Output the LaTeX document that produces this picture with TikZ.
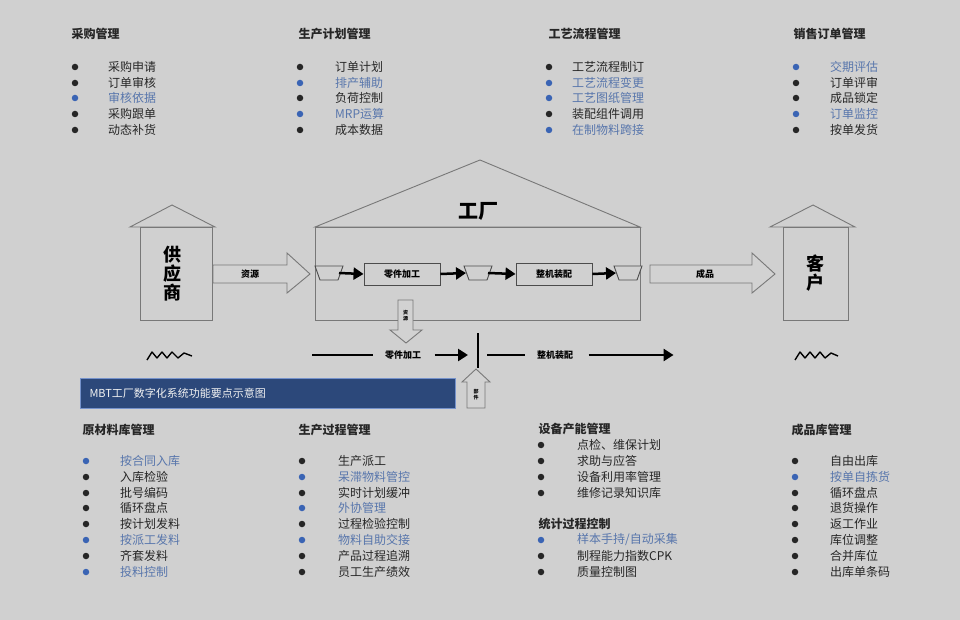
\documentclass[tikz,border=0pt]{standalone}
\usepackage{fontspec}
\setmainfont{Noto Sans CJK SC}
\usetikzlibrary{arrows.meta}
\definecolor{bg}{RGB}{208,208,208}
\definecolor{bluetxt}{RGB}{88,118,172}
\definecolor{bluedot}{RGB}{58,100,180}
\definecolor{banner}{RGB}{44,72,122}
\definecolor{edge}{RGB}{120,120,120}
\tikzset{
 ttl/.style={anchor=west,font=\fontsize{12}{14}\selectfont\bfseries,text=black!85},
 itm/.style={anchor=west,font=\fontsize{12}{14}\selectfont,text=black!85,inner sep=0pt},
 bitm/.style={itm,text=bluetxt},
 dot/.style={circle,fill=black!85,inner sep=0pt,minimum size=6.5pt},
 bdot/.style={dot,fill=bluedot},
 house/.style={draw=edge,line width=0.9pt,fill=bg},
 procbox/.style={draw=black!70,line width=0.9pt,minimum width=76pt,minimum height=22pt,font=\fontsize{9}{10}\selectfont\bfseries},
 flow/.style={-{Triangle[length=10pt,width=12pt]},line width=2.5pt,black},
 fat/.style={draw=edge,line width=0.9pt,fill=bg!95!white},
 big/.style={font=\fontsize{18}{21}\selectfont\bfseries},
 lbl/.style={font=\fontsize{9}{10}\selectfont\bfseries},
}
\newcommand\LI[6]{% name, bx, tx, y, style prefix, text
 \node[#5dot] (#1d) at (#2,#4) {};
 \node[#5itm] (#1) at (#3,#4) {#6};}
\begin{document}
\begin{tikzpicture}[x=1pt,y=-1pt]
\fill[bg] (0,0) rectangle (960,620);
\useasboundingbox (0,0) rectangle (960,620);
% top lists
\node[ttl] (t1) at (68,34) {采购管理};
\LI{a1}{75}{108}{67}{}{采购申请}
\LI{a2}{75}{108}{83}{}{订单审核}
\LI{a3}{75}{108}{98}{b}{审核依据}
\LI{a4}{75}{108}{114}{}{采购跟单}
\LI{a5}{75}{108}{130}{}{动态补货}
\node[ttl] (t2) at (295,34) {生产计划管理};
\LI{b1}{300}{335}{67}{}{订单计划}
\LI{b2}{300}{335}{83}{b}{排产辅助}
\LI{b3}{300}{335}{98}{}{负荷控制}
\LI{b4}{300}{335}{114}{b}{MRP运算}
\LI{b5}{300}{335}{130}{}{成本数据}
\node[ttl] (t3) at (545,34) {工艺流程管理};
\LI{c1}{549}{572}{67}{}{工艺流程制订}
\LI{c2}{549}{572}{83}{b}{工艺流程变更}
\LI{c3}{549}{572}{98}{b}{工艺图纸管理}
\LI{c4}{549}{572}{114}{}{装配组件调用}
\LI{c5}{549}{572}{130}{b}{在制物料跨接}
\node[ttl] (t4) at (790,34) {销售订单管理};
\LI{d1}{796}{830}{67}{b}{交期评估}
\LI{d2}{796}{830}{83}{}{订单评审}
\LI{d3}{796}{830}{98}{}{成品锁定}
\LI{d4}{796}{830}{114}{b}{订单监控}
\LI{d5}{796}{830}{130}{}{按单发货}
% supplier
\draw[house] (130,227) -- (172,205) -- (215,227) -- cycle;
\draw[house] (140,227) rectangle (212,320);
\node[big,align=center,inner sep=0pt] (sup) at (172,274) {供\\[-2pt]应\\[-2pt]商};
% customer
\draw[house] (770,227) -- (813,205) -- (855,227) -- cycle;
\draw[house] (783,227) rectangle (848,320);
\node[big,align=center,inner sep=0pt] (cus) at (815,273) {客\\[-2pt]户};
% factory
\draw[house] (315,227) -- (480,160) -- (640,227) -- cycle;
\draw[house] (315,227) rectangle (640,320);
\node[big,font=\fontsize{20}{22}\selectfont\bfseries] (fac) at (478,211) {工厂};
% big arrows
\draw[fat] (213,265) -- (287,265) -- (287,253) -- (310,274) -- (287,293) -- (287,283) -- (213,283) -- cycle;
\node[lbl] (res) at (250,274) {资源};
\draw[fat] (650,265) -- (752,265) -- (752,253) -- (775,274) -- (752,293) -- (752,283) -- (650,283) -- cycle;
\node[lbl] (prd) at (705,274) {成品};
% trapezoids
\foreach \n/\cx in {q1/329,q2/478,q3/628}{
 \draw[draw=black!70,line width=0.9pt,fill=bg] (\cx-14,266) -- (\cx+14,266) -- (\cx+9,280) -- (\cx-9,280) -- cycle;
 \coordinate (\n) at (\cx,273);
}
\node[procbox] (p1) at (402,274) {零件加工};
\node[procbox] (p2) at (554,274) {整机装配};
\draw[flow] ([xshift=10pt]q1) -- (p1.west);
\draw[flow] (p1.east) -- ([xshift=-12pt]q2);
\draw[flow] ([xshift=10pt]q2) -- (p2.west);
\draw[flow] (p2.east) -- ([xshift=-12pt]q3);
% down arrow
\draw[fat] (398,300) -- (413,300) -- (413,330) -- (422,330) -- (406,343) -- (390,330) -- (398,330) -- cycle;
\node[font=\fontsize{5}{6}\selectfont\bfseries,align=center,inner sep=0pt] (dl) at (405.5,316) {资\\源};
% bottom flow
\node[lbl] (z1) at (403,355) {零件加工};
\node[lbl] (z2) at (555,355) {整机装配};
\coordinate (l1) at (312,355);
\coordinate (j1) at (478,333);
\coordinate (j2) at (478,368);
\draw[line width=2.5pt] (l1) -- ([xshift=-8pt]z1.west);
\draw[flow] ([xshift=10pt]z1.east) -- ([xshift=-10pt]j1|-z1);
\draw[line width=2.5pt] (j1) -- (j2);
\draw[line width=2.5pt] ([xshift=9pt]j1|-z1) -- ([xshift=-8pt]z2.west);
\draw[flow] ([xshift=12pt]z2.east) -- ([xshift=97pt]z2.east);
% up arrow
\draw[fat] (467,408) -- (485,408) -- (485,382) -- (490,382) -- (476,369) -- (462,382) -- (467,382) -- cycle;
\node[font=\fontsize{5}{6}\selectfont\bfseries,align=center,inner sep=0pt] (ul) at (476,395) {部\\件};
% squiggles
\draw[line width=1.4pt,line join=round] (147,360) -- (152,352) -- (157,358) -- (162,352) -- (167,358) -- (172,352) -- (178,358) -- (184,353) -- (192,356);
\draw[line width=1.4pt,line join=round] (795,360) -- (800,352) -- (805,358) -- (810,352) -- (815,358) -- (820,352) -- (825,358) -- (831,353) -- (838,356);
% banner
\node[draw=bluedot!70!white,line width=1pt,fill=banner,minimum width=375pt,minimum height=30pt,anchor=north west,inner sep=0pt] (ban) at (80,378) {};
\node[anchor=west,text=white!90!gray,font=\fontsize{11}{13}\selectfont] (bant) at (86,393) {MBT工厂数字化系统功能要点示意图};
% bottom lists
\node[ttl] (t5) at (79,430) {原材料库管理};
\LI{e1}{86}{120}{461}{b}{按合同入库}
\LI{e2}{86}{120}{477}{}{入库检验}
\LI{e3}{86}{120}{493}{}{批号编码}
\LI{e4}{86}{120}{508}{}{循环盘点}
\LI{e5}{86}{120}{524}{}{按计划发料}
\LI{e6}{86}{120}{540}{b}{按派工发料}
\LI{e7}{86}{120}{556}{}{齐套发料}
\LI{e8}{86}{120}{572}{b}{投料控制}
\node[ttl] (t6) at (295,430) {生产过程管理};
\LI{f1}{302}{338}{461}{}{生产派工}
\LI{f2}{302}{338}{477}{b}{呆滞物料管控}
\LI{f3}{302}{338}{493}{}{实时计划缓冲}
\LI{f4}{302}{338}{508}{b}{外协管理}
\LI{f5}{302}{338}{524}{}{过程检验控制}
\LI{f6}{302}{338}{540}{b}{物料自助交接}
\LI{f7}{302}{338}{556}{}{产品过程追溯}
\LI{f8}{302}{338}{572}{}{员工生产绩效}
\node[ttl] (t7) at (535,429) {设备产能管理};
\LI{g1}{541}{577}{445}{}{点检、维保计划}
\LI{g2}{541}{577}{461}{}{求助与应答}
\LI{g3}{541}{577}{477}{}{设备利用率管理}
\LI{g4}{541}{577}{493}{}{维修记录知识库}
\node[ttl] (t8) at (535,524) {统计过程控制};
\LI{h1}{541}{577}{540}{b}{样本手持/自动采集}
\LI{h2}{541}{577}{556}{}{制程能力指数CPK}
\LI{h3}{541}{577}{572}{}{质量控制图}
\node[ttl] (t9) at (788,430) {成品库管理};
\LI{k1}{795}{830}{461}{}{自由出库}
\LI{k2}{795}{830}{477}{b}{按单自拣货}
\LI{k3}{795}{830}{493}{}{循环盘点}
\LI{k4}{795}{830}{508}{}{退货操作}
\LI{k5}{795}{830}{524}{}{返工作业}
\LI{k6}{795}{830}{540}{}{库位调整}
\LI{k7}{795}{830}{556}{}{合并库位}
\LI{k8}{795}{830}{572}{}{出库单条码}
\end{tikzpicture}
\end{document}
